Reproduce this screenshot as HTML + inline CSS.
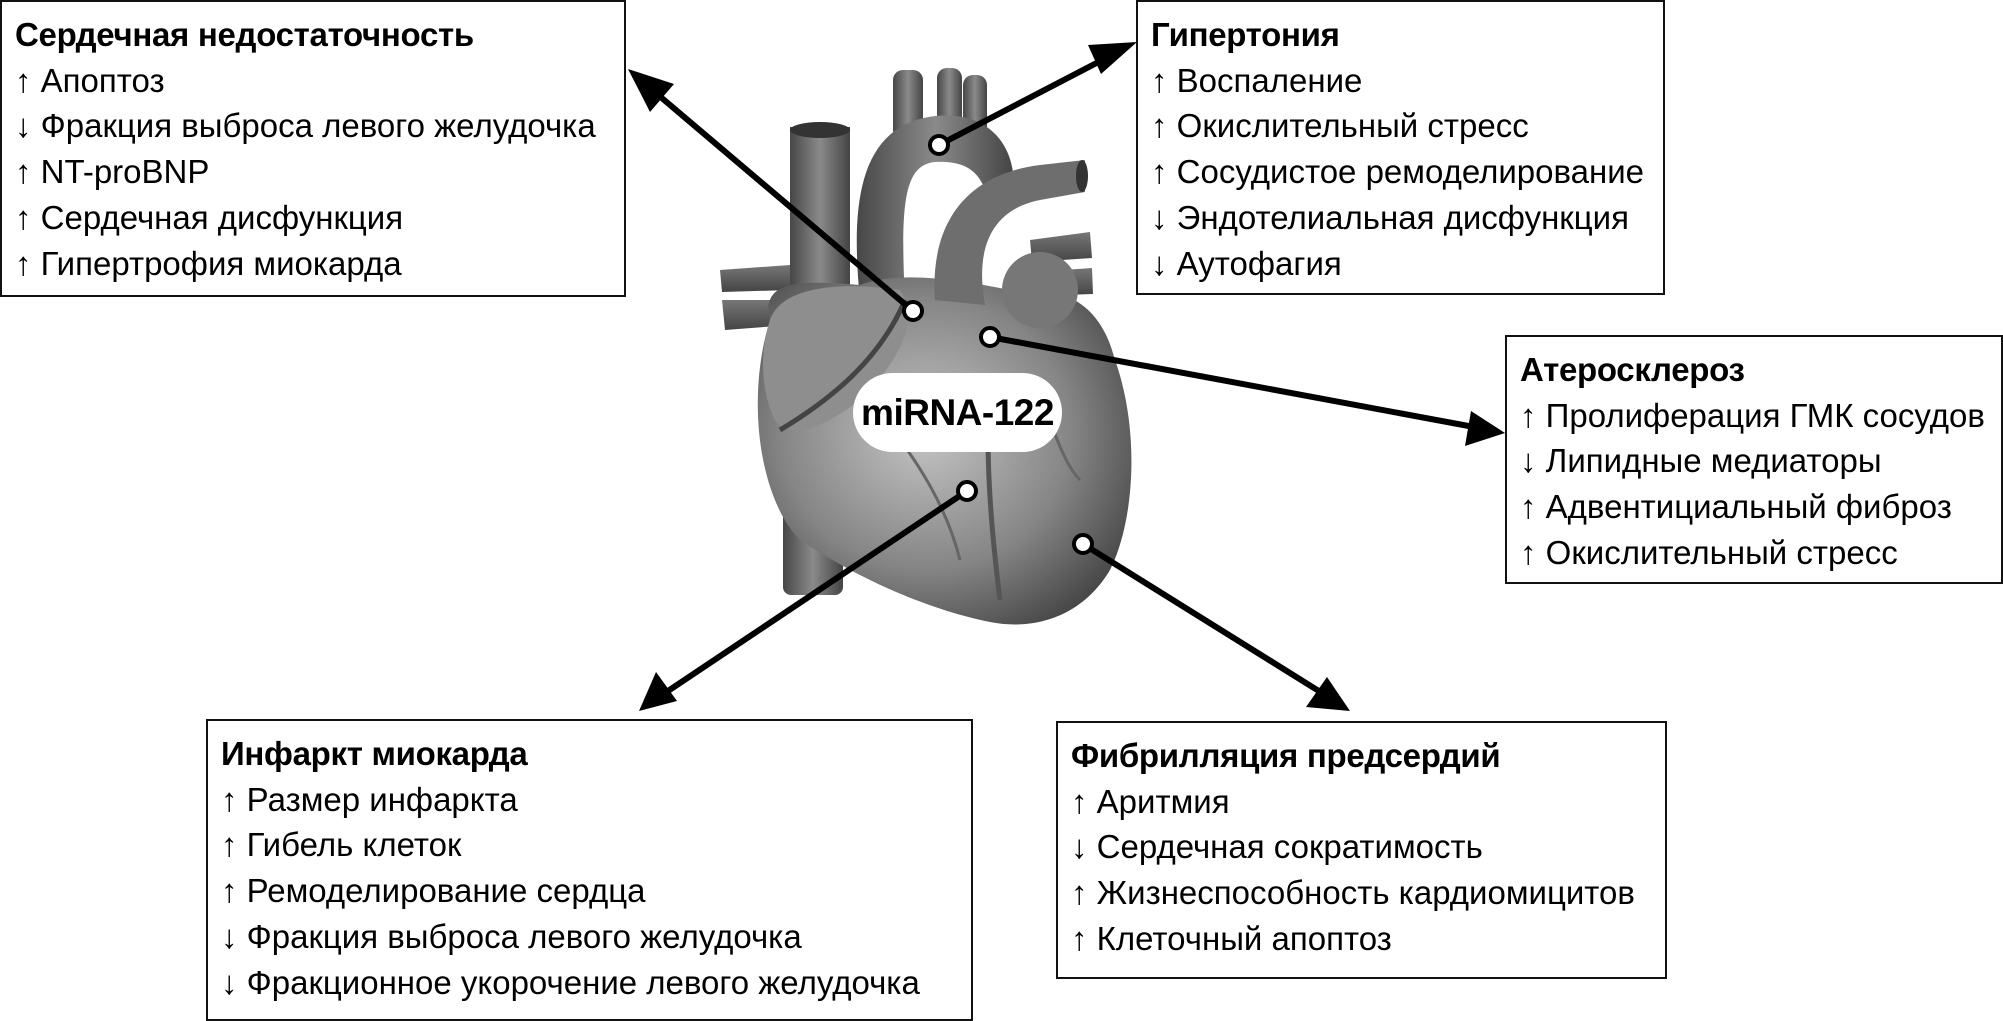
<!DOCTYPE html>
<html><head><meta charset="utf-8"><style>
html,body{margin:0;padding:0;background:#fff;}
body{width:2003px;height:1021px;position:relative;overflow:hidden;font-family:"Liberation Sans","DejaVu Sans",sans-serif;}
.box{position:absolute;border:2px solid #111;box-sizing:border-box;background:#fff;padding:10px 0 0 13px;font-size:33px;line-height:45.7px;color:#000;white-space:nowrap;letter-spacing:0;}
.box b{font-size:33px;letter-spacing:-0.3px;}
svg{position:absolute;left:0;top:0;}
.pill{position:absolute;left:853px;top:373px;width:209px;height:79px;border-radius:40px;background:#fff;font-weight:bold;font-size:37px;line-height:79px;text-align:center;letter-spacing:-0.5px;}
</style></head><body>
<svg width="2003" height="1021" viewBox="0 0 2003 1021">
<defs>
<radialGradient id="g1" cx="0.45" cy="0.45" r="0.65"><stop offset="0" stop-color="#c4c4c4"/><stop offset="0.6" stop-color="#858585"/><stop offset="1" stop-color="#444"/></radialGradient>
<linearGradient id="g2" x1="0" x2="1"><stop offset="0" stop-color="#474747"/><stop offset="0.5" stop-color="#8a8a8a"/><stop offset="1" stop-color="#444"/></linearGradient>
<linearGradient id="g3" x1="0" y1="0" x2="0" y2="1"><stop offset="0" stop-color="#777"/><stop offset="1" stop-color="#444"/></linearGradient>
</defs>
<path d="M720,270 L790,265 L790,290 L722,292 Z" fill="url(#g3)"/>
<path d="M722,300 L790,300 L790,325 L725,330 Z" fill="url(#g3)"/>
<path d="M1030,240 L1090,232 L1092,258 L1032,262 Z" fill="url(#g3)"/>
<path d="M1035,272 L1092,268 L1093,294 L1035,296 Z" fill="url(#g3)"/>
<rect x="783" y="470" width="60" height="125" rx="8" fill="url(#g2)"/>
<rect x="790" y="127" width="60" height="200" fill="url(#g2)"/>
<ellipse cx="820" cy="130" rx="30" ry="8" fill="#333"/>
<rect x="893" y="70" width="30" height="70" rx="10" fill="url(#g2)"/>
<rect x="937" y="68" width="25" height="70" rx="10" fill="url(#g2)"/>
<rect x="963" y="75" width="24" height="70" rx="10" fill="url(#g2)"/>
<path d="M860,300 C850,200 860,125 935,116 C1000,110 1020,160 1012,200 L990,210 C985,175 970,160 935,162 C905,165 900,200 905,300 Z" fill="url(#g2)"/>
<path d="M770,320 C760,280 800,280 860,285 C900,270 960,280 1010,290 C1060,285 1100,300 1115,360 C1140,430 1135,520 1110,570 C1080,620 1030,630 990,622 C930,610 860,580 800,540 C760,500 745,400 770,320 Z" fill="url(#g1)"/>
<path d="M935,300 C930,230 960,175 1040,165 L1085,160 L1085,192 L1040,200 C990,210 975,250 985,305 Z" fill="#6e6e6e"/>
<ellipse cx="1082" cy="176" rx="6" ry="16" fill="#333"/>
<ellipse cx="1040" cy="290" rx="38" ry="38" fill="#777"/>
<path d="M770,320 C780,290 830,280 900,290 C920,320 900,360 860,400 C820,430 790,440 775,420 C760,390 760,350 770,320 Z" fill="#8e8e8e"/>
<path d="M780,430 C830,400 880,360 905,300" stroke="#444" stroke-width="5" fill="none"/>
<path d="M990,380 C985,450 990,520 1000,600" stroke="#555" stroke-width="5" fill="none"/>
<path d="M900,440 C930,480 950,520 960,560" stroke="#666" stroke-width="3" fill="none"/>
<path d="M1050,420 C1060,450 1070,470 1080,480" stroke="#666" stroke-width="3" fill="none"/>
<g stroke="#000" stroke-width="6" fill="none">
<line x1="913" y1="311" x2="650" y2="88"/>
<line x1="939" y1="145" x2="1110" y2="56"/>
<line x1="990" y1="337" x2="1474" y2="427"/>
<line x1="967" y1="491" x2="665" y2="693"/>
<line x1="1083" y1="544" x2="1322" y2="693"/>
</g>
<g fill="#000">
<polygon points="628,69 674,84 650,112"/>
<polygon points="1137,42 1101,74 1088,45"/>
<polygon points="1505,433 1465,446 1471,411"/>
<polygon points="639,711 656,672 677,701"/>
<polygon points="1350,711 1306,707 1327,677"/>
</g>
<g fill="#fff" stroke="#000" stroke-width="4">
<circle cx="913" cy="311" r="9"/>
<circle cx="939" cy="145" r="9"/>
<circle cx="990" cy="337" r="9"/>
<circle cx="967" cy="491" r="9"/>
<circle cx="1083" cy="544" r="9"/>
</g>
</svg>
<div class="pill">miRNA-122</div>
<div class="box" style="left:0;top:0;width:626px;height:297px;"><b>Сердечная недостаточность</b><br>↑ Апоптоз<br>↓ Фракция выброса левого желудочка<br>↑ NT-proBNP<br>↑ Сердечная дисфункция<br>↑ Гипертрофия миокарда</div>
<div class="box" style="left:1136px;top:0;width:529px;height:295px;"><b>Гипертония</b><br>↑ Воспаление<br>↑ Окислительный стресс<br>↑ Сосудистое ремоделирование<br>↓ Эндотелиальная дисфункция<br>↓ Аутофагия</div>
<div class="box" style="left:1505px;top:335px;width:498px;height:249px;"><b>Атеросклероз</b><br>↑ Пролиферация ГМК сосудов<br>↓ Липидные медиаторы<br>↑ Адвентициальный фиброз<br>↑ Окислительный стресс</div>
<div class="box" style="left:206px;top:719px;width:767px;height:302px;"><b>Инфаркт миокарда</b><br>↑ Размер инфаркта<br>↑ Гибель клеток<br>↑ Ремоделирование сердца<br>↓ Фракция выброса левого желудочка<br>↓ Фракционное укорочение левого желудочка</div>
<div class="box" style="left:1056px;top:721px;width:611px;height:258px;"><b>Фибрилляция предсердий</b><br>↑ Аритмия<br>↓ Сердечная сократимость<br>↑ Жизнеспособность кардиомицитов<br>↑ Клеточный апоптоз</div>
</body></html>
